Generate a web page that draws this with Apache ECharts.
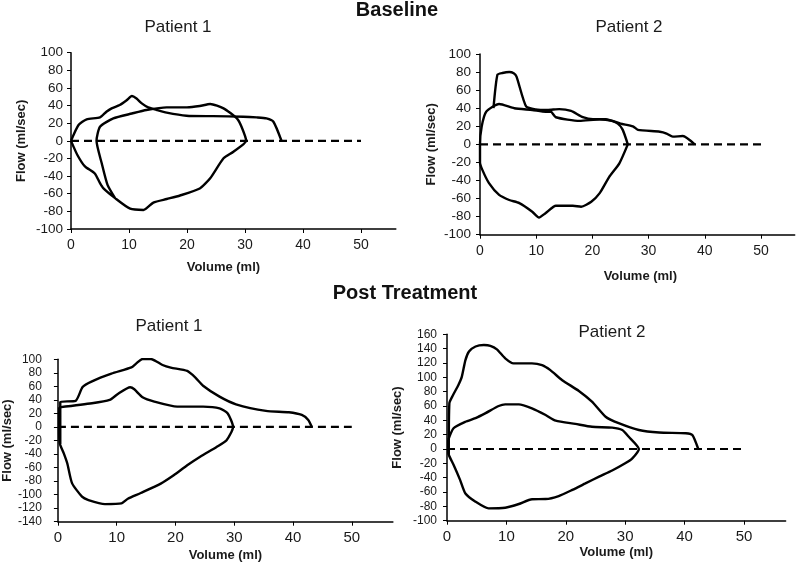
<!DOCTYPE html>
<html>
<head>
<meta charset="utf-8">
<script src="https://cdn.jsdelivr.net/npm/echarts@6/dist/echarts.min.js"></script>
<style>
  html, body { margin: 0; padding: 0; background: #fff; }
  #main { width: 800px; height: 566px; }
</style>
</head>
<body>
<div id="main"></div>
<script>
// tick labels on the volume axis
var volumeTicks = [0, 10, 20, 30, 40, 50];

// Baseline, patient 1  [volume ml, flow ml/sec]
var base1Upper = [[0,0],[1.3,18],[2.7,24.4],[5,26.6],[6.1,33],[7,36.9],[8.4,40.6],[9.6,46],[10.5,50.8],[11.3,48],[12.2,42.5],[13.3,38],[14.8,35],[16.5,32],[19.9,28.5],[24.5,28],[29.7,27.4],[32,26.6],[33.7,25.5],[34.9,21.7],[36.3,0]];
var base1Loop = [[0,0],[1.1,-16],[2.4,-29],[4.1,-37],[5,-48],[5.6,-54],[7.6,-65],[10.2,-77],[12.5,-78.4],[14.2,-70],[16.5,-66],[18.8,-62],[22.2,-54],[24,-42.5],[26.3,-19.8],[28,-12.3],[30.2,0],
  [29.4,16],[28.6,25.5],[26.3,36.9],[24,41.8],[22.2,39.5],[20,38],[16.5,38],[13,35],[10.5,31],[7.3,25.5],[5,16],[4.4,0],[5.3,-25.5],[6.3,-50],[7.6,-65]];

// Baseline, patient 2
var base2Loop = [[26.3,0],[24.8,-21],[23,-36],[21.3,-54],[19.8,-63.5],[18,-69],[16.5,-68],[13.5,-68],[11.7,-76],[10.5,-81],[9.3,-74.5],[7,-65],[5.2,-61.6],[3.4,-56],[1.6,-43],[0.4,-28],[0,-20],[0,0],
  [0.3,19.6],[1.1,36],[3.4,44.6],[6.1,40],[9.3,38],[11.7,36],[12.6,36],[13.5,30],[17.7,26],[21.3,27.7],[23.6,26],[25,23],[27.2,20],[28.1,16],[32,14],[33.2,12],[34.3,8.5],[36.1,9.2],[38.2,0]];
var base2Peak = [[2.4,40],[3.1,77],[4,79],[5.2,80],[6,78.6],[6.5,75],[8.2,42],[9.9,38.7],[12,38],[14.1,39],[16.2,37],[18.3,30],[20.1,27.7],[22.4,27.7],[24.5,23],[25.4,16],[26.3,0]];

// Post treatment, patient 1
var post1Upper = [[0.4,-25],[0.4,37],[3,38.5],[4.2,59],[5.8,67.5],[9.1,78.8],[12.5,88],[13.3,93.6],[14.4,100.5],[15.8,100.5],[17.8,91.6],[19.2,87.7],[22,82.8],[23.4,73],[24.7,61],[27.5,44.8],[30.3,33.5],[35.4,23.7],[39.3,21.7],[41.5,17.7],[42.6,10.3],[43.2,0]];
var post1Loop = [[0.2,29],[5.8,35],[8.8,40],[10.2,48.8],[12.3,58.6],[13,55.7],[14.4,43.9],[16.4,37.5],[20.3,30],[24.7,30],[27.5,27.6],[28.9,20],[29.8,0],[28.7,-19.7],[27,-29.6],[24.2,-44],[22,-56.7],[19.7,-71.5],[17.5,-83.8],[14.1,-97.6],[11.9,-106],[10.8,-113],[8,-114],[5.2,-108],[4.1,-103],[2.4,-83],[1.6,-54],[1,-39],[0.3,-24],[0.2,0],[0.2,29]];

// Post treatment, patient 2
var post2Upper = [[0.3,-8],[0.4,64],[1,75],[1.9,89],[2.5,101],[3.1,124],[3.7,136],[4.8,143],[6.2,145],[7.3,144],[8.4,139],[9.8,126.5],[11.2,119.5],[14.3,119.5],[16,117],[17.4,110],[19.4,96],[22.2,81],[24.4,66],[26.7,45],[28.9,36],[32.3,26.5],[35.7,23],[40.2,22],[41.3,19.5],[42.3,0]];
var post2Loop = [[0.2,12.6],[1.1,29],[3.1,38],[4.8,43],[6.5,50],[8.7,60],[9.8,62.3],[12.1,62.3],[14.3,56.7],[16.6,47.4],[18.3,39.5],[21.6,35],[24.4,31],[27.8,29.8],[29.5,26.5],[30.6,17],[32.3,0],[31.2,-13],[30,-20],[27.8,-30],[25.6,-38.6],[23.3,-48],[21.1,-57],[18.8,-65.6],[16.6,-69.8],[14.3,-70],[12.1,-76.7],[9.8,-81.9],[7,-82.8],[4.8,-73.5],[3.1,-62],[2.2,-43],[1.1,-22],[0.3,-8],[0.2,0],[0.2,12.6]];

// zero-flow reference line
var zeroLine = [[0,0],[50,0]];

// y-axis ranges per panel: [min, max]
var flowRanges = [[-100,100],[-100,100],[-140,100],[-100,160]];

var font = 'Liberation Sans, Arial, sans-serif';
var ink = '#000';

var chart = echarts.init(document.getElementById('main'));

var grids = [
  { left: 71, top: 52.7, width: 324.8, height: 176.3 },
  { left: 480, top: 54, width: 314.7, height: 180.7 },
  { left: 52, top: 359.3, width: 340.9, height: 162.4 },
  { left: 447, top: 334.3, width: 338.6, height: 186.4 }
];
var xMax = [56, 56, 57, 57];
var xLabelSize = [14, 14, 15, 15];
var yLabelSize = [13.5, 13.5, 12, 12];
var yLabelMargin = [8, 9, 16, 10];
var yNameGap = [43, 42, 39, 43];
var xNameGap = [32, 35, 27, 25];
var xNamePad = [[0, 20, 0, 0], [0, 0, 0, 6], [0, 0, 0, 0], [0, 0, 0, 0]];

var xAxes = [], yAxes = [];
for (var i = 0; i < 4; i++) {
  xAxes.push({
    type: 'value', gridIndex: i, min: 0, max: xMax[i], interval: 10,
    name: 'Volume (ml)', nameLocation: 'middle', nameGap: xNameGap[i],
    nameTextStyle: { fontFamily: font, fontSize: 13, fontWeight: 'bold', color: '#1a1a1a', padding: xNamePad[i] },
    axisLine: { onZero: false, lineStyle: { color: ink, width: 1.5 } },
    axisTick: { show: true, length: 4, lineStyle: { color: ink } },
    axisLabel: { fontFamily: font, fontSize: xLabelSize[i], color: '#1a1a1a', margin: 9, showMaxLabel: false },
    splitLine: { show: false }
  });
  yAxes.push({
    type: 'value', gridIndex: i, min: flowRanges[i][0], max: flowRanges[i][1], interval: 20,
    name: 'Flow (ml/sec)', nameLocation: 'middle', nameGap: yNameGap[i], nameRotate: 90,
    nameTextStyle: { fontFamily: font, fontSize: 13, fontWeight: 'bold', color: '#1a1a1a' },
    axisLine: { onZero: false, lineStyle: { color: ink, width: 1.5 } },
    axisTick: { show: true, length: 4, lineStyle: { color: ink } },
    axisLabel: { fontFamily: font, fontSize: yLabelSize[i], color: '#1a1a1a', margin: yLabelMargin[i] },
    splitLine: { show: false }
  });
}

function curve(data, idx) {
  return {
    type: 'line', data: data, xAxisIndex: idx, yAxisIndex: idx,
    showSymbol: false, symbol: 'none', smooth: 0.2, silent: true,
    lineStyle: { color: ink, width: 2.4 }
  };
}
function dashed(idx) {
  return {
    type: 'line', data: zeroLine, xAxisIndex: idx, yAxisIndex: idx,
    showSymbol: false, symbol: 'none', silent: true,
    lineStyle: { color: ink, width: 2.2, type: [8, 5] }
  };
}

var option = {
  animation: false,
  backgroundColor: '#fff',
  title: [
    { text: 'Baseline', left: 397, top: 0, textAlign: 'center', padding: 0,
      textStyle: { fontFamily: font, fontSize: 20, fontWeight: 'bold', color: '#111' } },
    { text: 'Patient 1', left: 178, top: 19, textAlign: 'center', padding: 0,
      textStyle: { fontFamily: font, fontSize: 17, fontWeight: 'normal', color: '#1a1a1a' } },
    { text: 'Patient 2', left: 629, top: 19, textAlign: 'center', padding: 0,
      textStyle: { fontFamily: font, fontSize: 17, fontWeight: 'normal', color: '#1a1a1a' } },
    { text: 'Post Treatment', left: 405, top: 283, textAlign: 'center', padding: 0,
      textStyle: { fontFamily: font, fontSize: 20, fontWeight: 'bold', color: '#111' } },
    { text: 'Patient 1', left: 169, top: 318, textAlign: 'center', padding: 0,
      textStyle: { fontFamily: font, fontSize: 17, fontWeight: 'normal', color: '#1a1a1a' } },
    { text: 'Patient 2', left: 612, top: 324, textAlign: 'center', padding: 0,
      textStyle: { fontFamily: font, fontSize: 17, fontWeight: 'normal', color: '#1a1a1a' } }
  ],
  grid: grids,
  xAxis: xAxes,
  yAxis: yAxes,
  series: [
    dashed(0), curve(base1Upper, 0), curve(base1Loop, 0),
    dashed(1), curve(base2Loop, 1), curve(base2Peak, 1),
    dashed(2), curve(post1Upper, 2), curve(post1Loop, 2),
    dashed(3), curve(post2Upper, 3), curve(post2Loop, 3)
  ]
};
chart.setOption(option);
</script>
</body>
</html>
